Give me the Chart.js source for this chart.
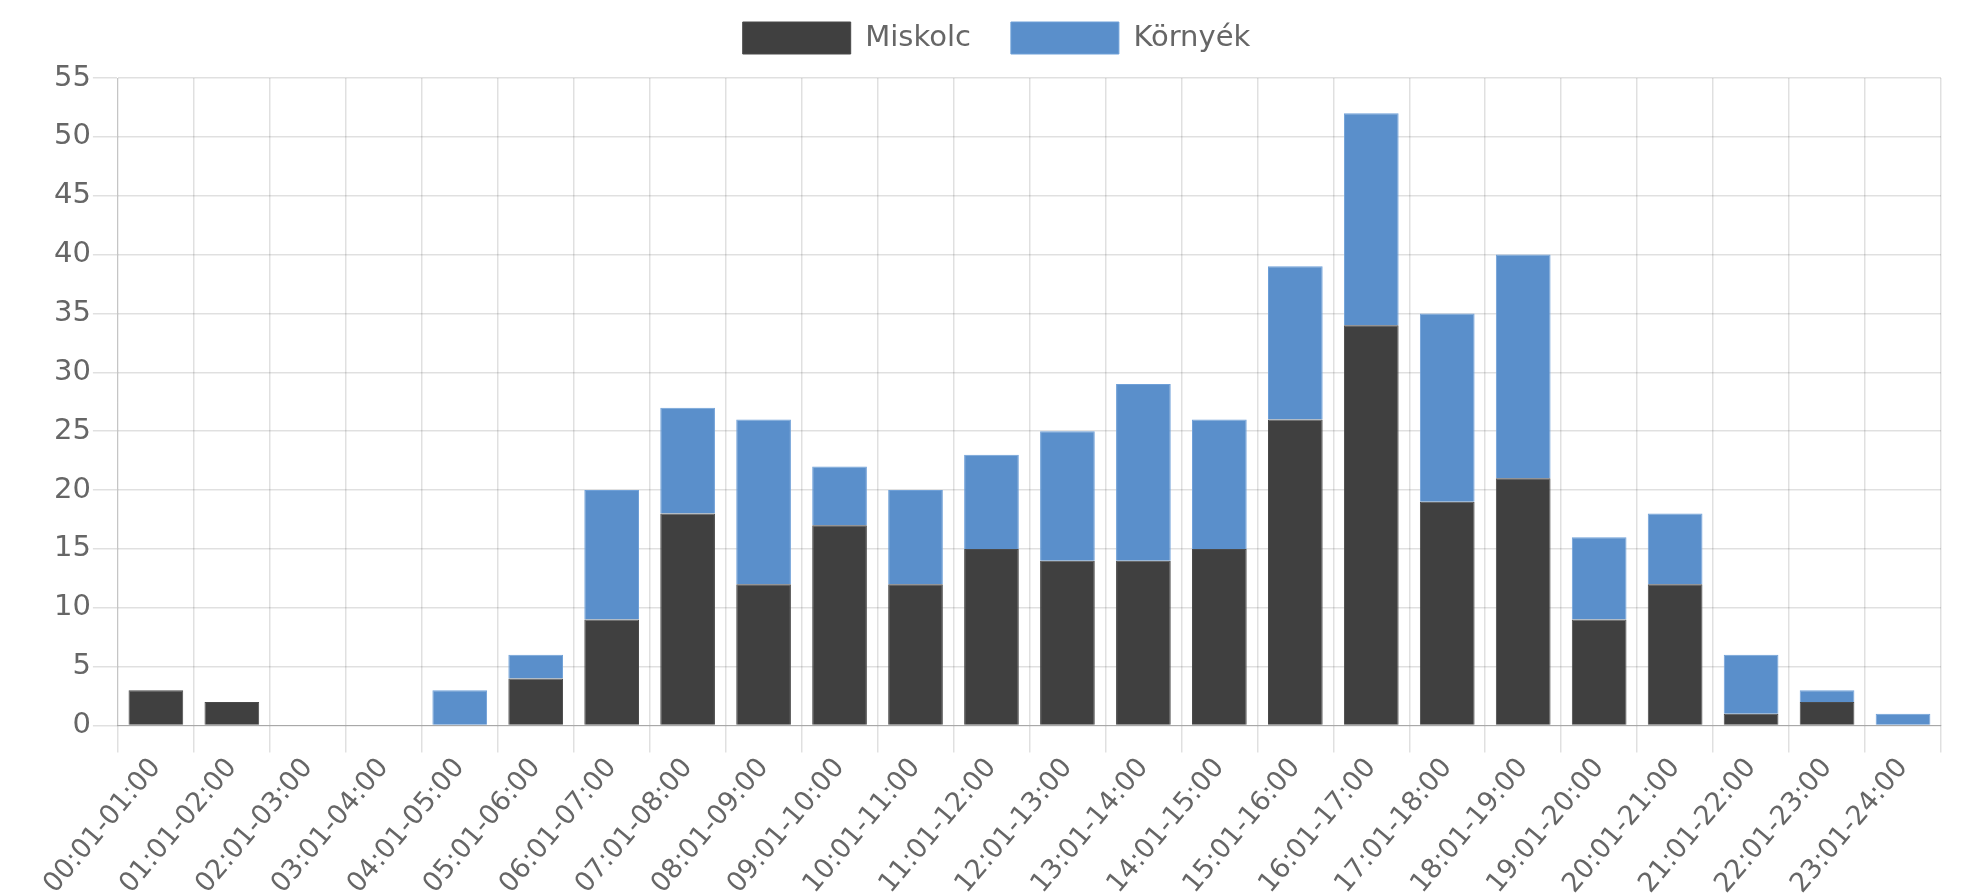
<!DOCTYPE html>
<html>
<head>
<meta charset="utf-8">
<script src="https://cdn.jsdelivr.net/npm/chart.js@4.4.0/dist/chart.umd.min.js"></script>
<style>
html,body{margin:0;padding:0;background:#fff;}
#wrap{width:1963px;height:896px;}
</style>
</head>
<body>
<div id="wrap"><canvas id="c" width="1963" height="896"></canvas></div>
<script>
const categories = ["00:01-01:00","01:01-02:00","02:01-03:00","03:01-04:00","04:01-05:00","05:01-06:00","06:01-07:00","07:01-08:00","08:01-09:00","09:01-10:00","10:01-11:00","11:01-12:00","12:01-13:00","13:01-14:00","14:01-15:00","15:01-16:00","16:01-17:00","17:01-18:00","18:01-19:00","19:01-20:00","20:01-21:00","21:01-22:00","22:01-23:00","23:01-24:00"];
const miskolc = [3,2,0,0,0,4,9,18,12,17,12,15,14,14,15,26,34,19,21,9,12,1,2,0];
const kornyek = [0,0,0,0,3,2,11,9,14,5,8,8,11,15,11,13,18,16,19,7,6,5,1,1];
const yTicks = [0,5,10,15,20,25,30,35,40,45,50,55];

const FONT = "'DejaVu Sans', sans-serif";
const TXT = '#666666';
const legendGap = {
  id: 'legendGap',
  beforeInit(chart) {
    const origFit = chart.legend.fit;
    chart.legend.fit = function() {
      origFit.bind(chart.legend)();
      this.height += 14;
    };
  }
};
new Chart(document.getElementById('c'), {
  type: 'bar',
  plugins: [legendGap],
  data: {
    labels: categories,
    datasets: [
      {label: 'Miskolc', data: miskolc, backgroundColor: '#404040', borderColor: '#4a4a4a', borderWidth: 1},
      {label: 'Környék', data: kornyek, backgroundColor: '#5a8fcb', borderColor: '#6fa0d8', borderWidth: 1}
    ]
  },
  options: {
    responsive: false,
    animation: false,
    devicePixelRatio: 1,
    layout: {padding: {left: 52, right: 22, top: -18, bottom: 0}},
    plugins: {
      legend: {
        position: 'top',
        labels: {
          boxWidth: 108, boxHeight: 32, padding: 40,
          color: TXT, font: {family: FONT, size: 29}
        }
      },
      tooltip: {enabled: false}
    },
    scales: {
      x: {
        stacked: true,
        grid: {color: 'rgba(0,0,0,0.12)', lineWidth: 1.5, tickLength: 27},
        border: {color: 'rgba(0,0,0,0.25)'},
        ticks: {color: TXT, font: {family: FONT, size: 27}, maxRotation: 50, minRotation: 50, autoSkip: false, padding: 0},
        afterFit: (scale) => { scale.height -= 4; }
      },
      y: {
        stacked: true,
        min: 0, max: 55,
        afterBuildTicks: (axis) => { axis.ticks = yTicks.map(v => ({value: v})); },
        grid: {color: 'rgba(0,0,0,0.12)', lineWidth: 1.5, tickLength: 25},
        border: {color: 'rgba(0,0,0,0.12)'},
        ticks: {color: TXT, font: {family: FONT, size: 29}, padding: 2}
      }
    }
  }
});
</script>
</body>
</html>
